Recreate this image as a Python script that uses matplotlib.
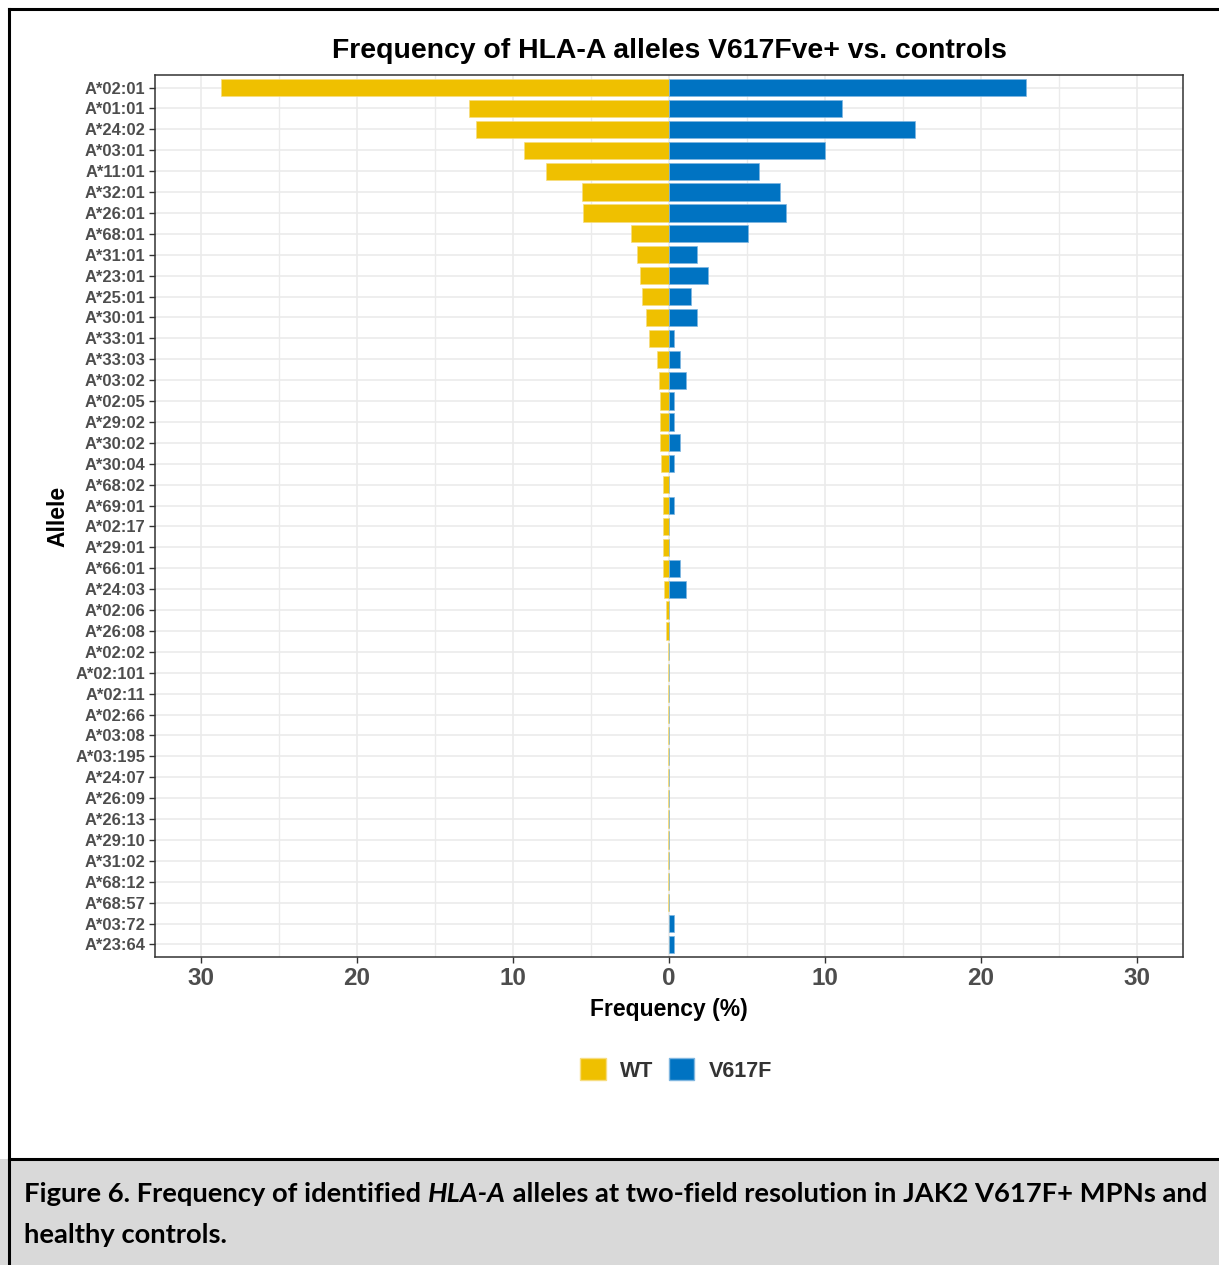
import matplotlib.pyplot as plt
from matplotlib.patches import Patch, Rectangle
from matplotlib.lines import Line2D
import numpy as np

alleles = [
    "A*02:01", "A*01:01", "A*24:02", "A*03:01", "A*11:01", "A*32:01", "A*26:01",
    "A*68:01", "A*31:01", "A*23:01", "A*25:01", "A*30:01", "A*33:01", "A*33:03",
    "A*03:02", "A*02:05", "A*29:02", "A*30:02", "A*30:04", "A*68:02", "A*69:01",
    "A*02:17", "A*29:01", "A*66:01", "A*24:03", "A*02:06", "A*26:08", "A*02:02",
    "A*02:101", "A*02:11", "A*02:66", "A*03:08", "A*03:195", "A*24:07", "A*26:09",
    "A*26:13", "A*29:10", "A*31:02", "A*68:12", "A*68:57", "A*03:72", "A*23:64",
]

wt_freq = [
    28.7, 12.8, 12.4, 9.3, 7.9, 5.6, 5.5, 2.45, 2.05, 1.87, 1.75, 1.47, 1.26, 0.75,
    0.66, 0.58, 0.58, 0.58, 0.49, 0.38, 0.38, 0.38, 0.38, 0.38, 0.29, 0.2, 0.2, 0.09,
    0.09, 0.09, 0.09, 0.09, 0.09, 0.09, 0.09, 0.09, 0.09, 0.09, 0.09, 0.09, 0.0, 0.0,
]

v617f_freq = [
    22.9, 11.06, 15.8, 10.0, 5.74, 7.1, 7.5, 5.05, 1.78, 2.49, 1.4, 1.78, 0.31, 0.71,
    1.08, 0.31, 0.31, 0.71, 0.31, 0.0, 0.31, 0.0, 0.0, 0.71, 1.08, 0.0, 0.0, 0.0,
    0.0, 0.0, 0.0, 0.0, 0.0, 0.0, 0.0, 0.0, 0.0, 0.0, 0.0, 0.0, 0.31, 0.31,
]

WT_COL = "#EFC000"
V_COL = "#0073C2"

plt.rcParams["font.family"] = ["Liberation Sans", "DejaVu Sans"]

W, H = 1219, 1265
fig = plt.figure(figsize=(W / 100, H / 100), dpi=100)

ax = fig.add_axes([155 / W, 1 - 957 / H, (1183 - 155) / W, (957 - 75) / H])

y = np.arange(len(alleles))
ax.barh(y, -np.array(wt_freq), height=0.82, color=WT_COL,
        edgecolor="#f7dd80", linewidth=0.5, zorder=3)
ax.barh(y, v617f_freq, height=0.82, color=V_COL,
        edgecolor="#7fb6e0", linewidth=0.5, zorder=3)

ax.set_xlim(-32.95, 32.95)
ax.set_ylim(len(alleles) - 0.4, -0.6)

ax.set_yticks(y)
ax.set_yticklabels(alleles, fontsize=11.9, fontweight="bold", color="#4d4d4d")
ax.set_xticks([-30, -20, -10, 0, 10, 20, 30])
ax.set_xticklabels(["30", "20", "10", "0", "10", "20", "30"],
                   fontsize=17.5, fontweight="bold", color="#4d4d4d")
ax.set_xticks([-25, -15, -5, 5, 15, 25], minor=True)
ax.tick_params(axis="both", which="major", length=4, width=1, color="#333333")
ax.tick_params(axis="x", which="minor", length=0)
ax.tick_params(axis="x", pad=3)
ax.tick_params(axis="y", pad=3)

ax.grid(True, which="major", color="#ebebeb", linewidth=1.2, zorder=0)
ax.grid(True, which="minor", axis="x", color="#ebebeb", linewidth=1.0, zorder=0)
ax.set_axisbelow(True)
for sp in ax.spines.values():
    sp.set_color("#333333")
    sp.set_linewidth(1.1)

ax.set_xlabel("Frequency (%)", fontsize=16.5, fontweight="bold", labelpad=6)
ax.set_ylabel("Allele", fontsize=16.5, fontweight="bold")
ax.yaxis.set_label_coords(-0.0837, 0.5)

ax.set_title("Frequency of HLA-A alleles V617Fve+ vs. controls",
             fontsize=20.4, fontweight="bold", pad=12)

handles = [Patch(facecolor=WT_COL, edgecolor="#f7dd80", label="WT"),
           Patch(facecolor=V_COL, edgecolor="#7fb6e0", label="V617F")]
fig.legend(handles=handles, loc="center", bbox_to_anchor=(676 / W, 1 - 1070 / H),
           ncol=2, frameon=False, handlelength=1.2, handleheight=1.2,
           columnspacing=0.7, handletextpad=0.65,
           prop={"size": 15.5, "weight": "bold"}, labelcolor="#333333")

# outer frame and caption box
fig.patches.append(Rectangle((0, 0), 1, (H - 1159) / H, transform=fig.transFigure,
                             facecolor="#d9d9d9", edgecolor="none", zorder=0))
fig.add_artist(Line2D([9 / W, 9 / W], [0, 1 - 9 / H], transform=fig.transFigure,
                      color="black", linewidth=2.2))
fig.add_artist(Line2D([9 / W, 1], [1 - 9 / H, 1 - 9 / H], transform=fig.transFigure,
                      color="black", linewidth=2.2))
fig.add_artist(Line2D([9 / W, 1], [1 - 1159 / H, 1 - 1159 / H], transform=fig.transFigure,
                      color="black", linewidth=2.2))

# caption, built piece by piece so the italic part stays bold
cap_font = ["Lato", "DejaVu Sans"]
cap_size = 19.7
pieces = [("Figure 6. Frequency of identified ", "normal"),
          ("HLA-A", "italic"),
          (" alleles at two-field resolution in JAK2 V617F+ MPNs and", "normal")]
renderer = fig.canvas.get_renderer()
x_px = 24
for txt, style in pieces:
    t = fig.text(x_px / W, 1 - 1194 / H, txt, fontsize=cap_size, fontweight="bold",
                 fontstyle=style, family=cap_font, va="center", ha="left")
    x_px += t.get_window_extent(renderer).width
fig.text(24 / W, 1 - 1235 / H, "healthy controls.", fontsize=cap_size,
         fontweight="bold", family=cap_font, va="center", ha="left")

fig.savefig("out.png", dpi=100)
